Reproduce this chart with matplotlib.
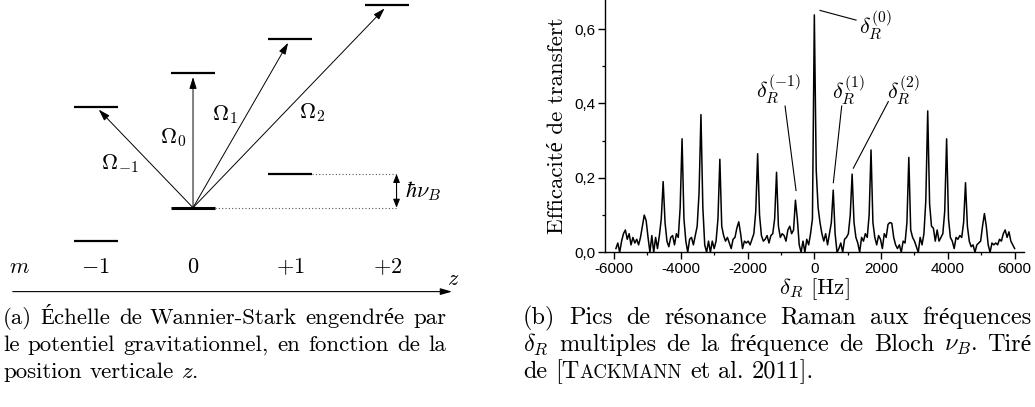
import numpy as np
import matplotlib.pyplot as plt
from matplotlib.ticker import MultipleLocator

plt.rcParams['mathtext.fontset'] = 'cm'
plt.rcParams['font.family'] = ['cmr10', 'Liberation Serif']
plt.rcParams['axes.unicode_minus'] = False

# ---- data: Wannier-Stark ladder (left) ----
lower_m = [-1, 0, 1]          # sites with a ground-band level drawn
lower_E = [-1, 0, 1]          # energy in units of h*nu_B
upper_m = [-1, 0, 1, 2]
upper_E = [3, 4, 5, 6]
site_labels = ['$-1$', '$0$', '$+1$', '$+2$']
rabi_labels = [r'$\Omega_{-1}$', r'$\Omega_0$', r'$\Omega_1$', r'$\Omega_2$']

# ---- data: Raman spectrum (right), one row per Bloch period ----
nu_B = 566.0                   # Hz, spacing of the resonances
step = nu_B / 10
efficiency = [
    0.01, 0.025, 0.0, 0.03, 0.05, 0.06, 0.035, 0.05, 0.02, 0.04,
    0.025, 0.035, 0.02, 0.04, 0.07, 0.10, 0.085, 0.04, 0.0, 0.045,
    0.0, 0.04, 0.01, 0.045, 0.09, 0.19, 0.08, 0.03, 0.015, 0.04,
    0.045, 0.02, 0.05, 0.04, 0.12, 0.305, 0.09, 0.03, 0.0, 0.035,
    0.04, 0.02, 0.045, 0.07, 0.16, 0.37, 0.12, 0.02, 0.0, 0.03,
    0.0, 0.03, 0.01, 0.03, 0.09, 0.25, 0.07, 0.045, 0.03, 0.04,
    0.025, 0.01, 0.035, 0.04, 0.065, 0.082, 0.05, 0.01, 0.03, 0.025,
    0.03, 0.02, 0.035, 0.05, 0.11, 0.265, 0.10, 0.045, 0.03, 0.035,
    0.045, 0.025, 0.045, 0.05, 0.09, 0.215, 0.07, 0.04, 0.05, 0.045,
    0.03, 0.06, 0.07, 0.05, 0.06, 0.14, 0.09, 0.02, 0.0, 0.03,
    0.0, 0.035, 0.02, 0.05, 0.09, 0.638, 0.22, 0.12, 0.08, 0.05,
    0.03, 0.05, 0.02, 0.05, 0.08, 0.167, 0.05, 0.0, 0.01, 0.025,
    0.0, 0.035, 0.04, 0.05, 0.10, 0.21, 0.08, 0.04, 0.025, 0.0,
    0.04, 0.03, 0.05, 0.04, 0.10, 0.275, 0.08, 0.04, 0.02, 0.045,
    0.035, 0.01, 0.05, 0.04, 0.075, 0.08, 0.078, 0.04, 0.02, 0.01,
    0.02, 0.0, 0.03, 0.025, 0.08, 0.255, 0.06, 0.04, 0.03, 0.015,
    0.0, 0.04, 0.02, 0.05, 0.14, 0.38, 0.13, 0.07, 0.065, 0.03,
    0.06, 0.03, 0.04, 0.05, 0.11, 0.305, 0.09, 0.04, 0.03, 0.01,
    0.04, 0.035, 0.045, 0.04, 0.08, 0.187, 0.07, 0.03, 0.015, 0.02,
    0.0, 0.02, 0.025, 0.03, 0.07, 0.104, 0.07, 0.02, 0.0, 0.025,
    0.02, 0.025, 0.02, 0.035, 0.03, 0.05, 0.06, 0.04, 0.055, 0.03,
    0.02, 0.01,
]
detuning = (np.arange(len(efficiency)) - 105) * step

peak_labels = [r'$\delta_R^{(-1)}$', r'$\delta_R^{(0)}$', r'$\delta_R^{(1)}$', r'$\delta_R^{(2)}$']
label_pos = [(-1078, 0.441), (1817, 0.611), (1018, 0.436), (2665, 0.436)]
leader_from = [(-877, 0.393), (1249, 0.624), (820, 0.393), (2216, 0.405)]
leader_to = [(-548, 0.166), (171, 0.650), (569, 0.187), (1168, 0.226)]

yticks = [0.0, 0.2, 0.4, 0.6]
yticklabels = ['0,0', '0,2', '0,4', '0,6']
xticks = [-6000, -4000, -2000, 0, 2000, 4000, 6000]

caption_a = [
    ['(a)', 'Échelle', 'de', 'Wannier-Stark', 'engendrée', 'par'],
    ['le', 'potentiel', 'gravitationnel,', 'en', 'fonction', 'de', 'la'],
    ['position', 'verticale', '$z$.'],
]
caption_b = [
    ['(b)', 'Pics', 'de', 'résonance', 'Raman', 'aux', 'fréquences'],
    [r'$\delta_R$', 'multiples', 'de', 'la', 'fréquence', 'de', 'Bloch', r'$\nu_B$.', 'Tiré'],
    ['de', ('[T', 'ACKMANN'), 'et', 'al.', '2011].'],
]

fig = plt.figure(figsize=(10.35, 4.07), dpi=100)

# ---------------- left: ladder diagram ----------------
ax = fig.add_axes([0, 107 / 407, 460 / 1035, 300 / 407])
ax.set_xlim(-1.986, 2.747)
ax.set_ylim(-2.739, 6.163)
ax.axis('off')
hw = 0.226
for m, E in zip(lower_m, lower_E):
    ax.plot([m - hw, m + hw], [E, E], color='black', lw=2.2 if E == 0 else 1.6,
            solid_capstyle='butt')
for m, E in zip(upper_m, upper_E):
    ax.plot([m - hw, m + hw], [E, E], color='black', lw=1.6, solid_capstyle='butt')
for m, E in zip(upper_m, upper_E):
    ax.annotate('', xy=(m, E), xytext=(0, 0),
                arrowprops=dict(arrowstyle='-|>,head_length=0.7,head_width=0.22',
                                lw=0.7, color='black', shrinkA=0, shrinkB=3))
rabi_pos = [(-0.75, 1.32), (-0.21, 2.07), (0.33, 2.75), (1.22, 2.81)]
for (x, y), lab in zip(rabi_pos, rabi_labels):
    ax.text(x, y, lab, fontsize=16, ha='center', va='center')

x_ref = 2.094
ax.plot([hw, x_ref], [0, 0], color='#555555', lw=0.8, ls=(0, (1, 2)))
ax.plot([1 + hw, x_ref], [1, 1], color='#555555', lw=0.8, ls=(0, (1, 2)))
ax.annotate('', xy=(x_ref, 1), xytext=(x_ref, 0),
            arrowprops=dict(arrowstyle='<|-|>,head_length=0.5,head_width=0.2',
                            lw=0.8, color='black', shrinkA=0, shrinkB=0))
ax.text(x_ref + 0.09, 0.5, r'$\hbar\nu_B$', fontsize=16, ha='left', va='center')

for m, lab in zip(upper_m, site_labels):
    ax.text(m, -1.76, lab, fontsize=16, ha='center', va='center')
ax.text(-1.79, -1.76, '$m$', fontsize=16, ha='center', va='center')
ax.annotate('', xy=(2.665, -2.49), xytext=(-1.855, -2.49),
            arrowprops=dict(arrowstyle='-|>,head_length=0.7,head_width=0.2',
                            lw=0.8, color='black', shrinkA=0, shrinkB=0))
ax.text(2.68, -2.12, '$z$', fontsize=16, ha='center', va='center')

# ---------------- right: Raman spectrum ----------------
bx = fig.add_axes([605 / 1035, 154.7 / 407, 419 / 1035, 252.3 / 407])
bx.plot(detuning, efficiency, color='black', lw=1.1)
bx.set_xlim(-6270, 6280)
bx.set_ylim(0, 0.678)
for s in ('top', 'right'):
    bx.spines[s].set_visible(False)
for s in ('left', 'bottom'):
    bx.spines[s].set_linewidth(1.0)
bx.set_xticks(xticks)
bx.set_xticklabels([str(v) for v in xticks])
bx.set_yticks(yticks)
bx.set_yticklabels(yticklabels)
bx.xaxis.set_minor_locator(MultipleLocator(1000))
bx.yaxis.set_minor_locator(MultipleLocator(0.1))
bx.tick_params(which='major', length=5, width=1.0, labelsize=11,
               labelfontfamily='Liberation Sans', pad=2)
bx.tick_params(which='minor', length=2.5, width=0.9)
bx.set_ylabel('Efficacité de transfert', fontsize=16.5, labelpad=5)
bx.set_xlabel(r'$\delta_R$ [Hz]', fontsize=16.5, labelpad=0)
for lab, p, a, b in zip(peak_labels, label_pos, leader_from, leader_to):
    bx.text(p[0], p[1], lab, fontsize=16, ha='center', va='center')
    bx.plot([a[0], b[0]], [a[1], b[1]], color='black', lw=0.8)

# ---------------- captions (justified like the LaTeX source) ----------------
cap = fig.add_axes([0, 0, 1, 1])
cap.set_xlim(0, 1035)
cap.set_ylim(407, 0)
cap.axis('off')
fig.canvas.draw()
renderer = fig.canvas.get_renderer()


def place_line(words, x0, x1, y, justify, fs):
    items = []
    for w in words:
        parts = w if isinstance(w, tuple) else (w,)
        arts = []
        for i, p in enumerate(parts):
            size = fs if i == 0 else fs * 0.78
            t = cap.text(0, y, p, fontsize=size, ha='left', va='baseline')
            arts.append((t, t.get_window_extent(renderer).width))
        items.append(arts)
    widths = [sum(wd for _, wd in arts) for arts in items]
    if justify:
        gap = (x1 - x0 - sum(widths)) / (len(items) - 1)
    else:
        gap = fs * 100 / 72 * 0.33
    x = x0
    for arts, w in zip(items, widths):
        xx = x
        for t, wd in arts:
            t.set_x(xx)
            xx += wd
        x += w + gap


baselines = [324, 351, 378]
for lines, x0, x1, fs in ((caption_a, 3, 446, 16.5), (caption_b, 523, 1032, 17.5)):
    for i, (words, y) in enumerate(zip(lines, baselines)):
        place_line(words, x0, x1, y, i < len(lines) - 1, fs)

fig.savefig('out.png', dpi=100)
